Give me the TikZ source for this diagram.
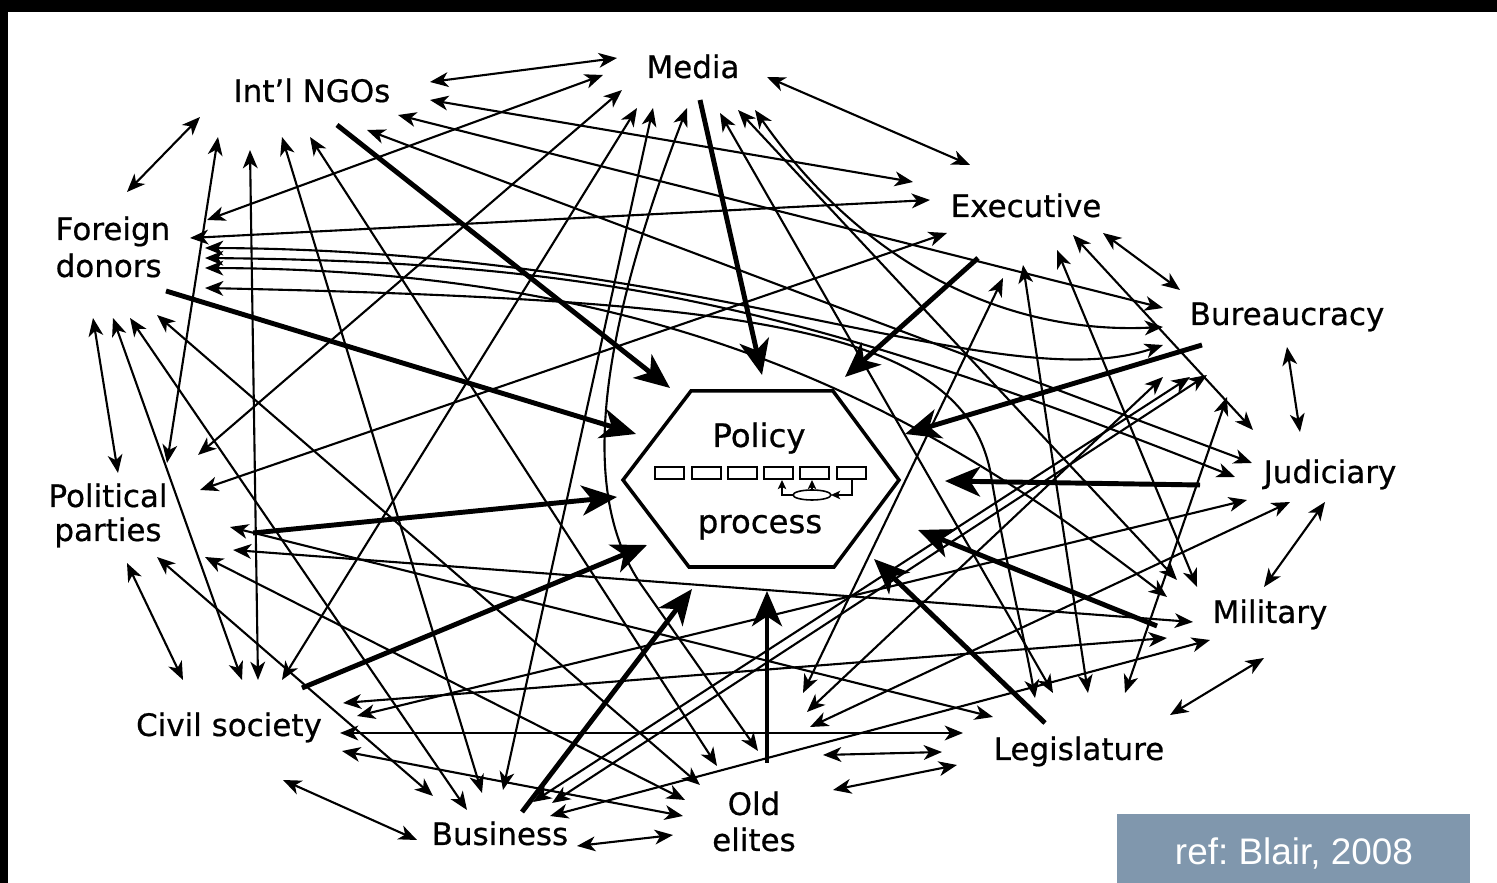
\documentclass[tikz,border=0pt]{standalone}
\usepackage{fontspec}
\setmainfont{DejaVu Sans}
\newfontfamily\labfont[FakeBold=0.6]{DejaVu Sans}
\newfontfamily\reffont{Liberation Sans}
\usetikzlibrary{arrows.meta}
\definecolor{refgrey}{RGB}{128,151,173}
\begin{document}
\frenchspacing
\begin{tikzpicture}[x=0.01cm,y=-0.01cm,
  >={Stealth[length=5.2pt,width=4.2pt,inset=1.5pt]},
  rel/.style={line width=0.6pt,<->},
  infl/.style={line width=1.4pt,-{Stealth[length=10pt,width=8.5pt,inset=2.8pt]}},
  lab/.style={font=\labfont\fontsize{8.8}{10}\selectfont,inner sep=0pt,anchor=base},
  box/.style={line width=0.45pt},
  tiny/.style={line width=0.45pt,-{Stealth[length=2.6pt,width=2.4pt,inset=0.6pt]}}]
\useasboundingbox (0,0) rectangle (1497,883);
\fill[black] (0,0) rectangle (1497,883);
\fill[white] (8,12) rectangle (1497,883);

% ---------- labels ----------
\node[lab] (ng) at (312,102) {Int’l NGOs};
\node[lab] (me) at (693,78) {Media};
\node[lab] (ex) at (1026,217) {Executive};
\node[lab,anchor=base west] (fd1) at (55,240) {Foreign};
\node[lab,anchor=base west] (fd2) at (55,277) {donors};
\node[lab] (bu) at (1287,325) {Bureaucracy};
\node[lab] (ju) at (1330,483) {Judiciary};
\node[lab] (pp1) at (108,507) {Political};
\node[lab] (pp2) at (108,541) {parties};
\node[lab] (mi) at (1270,623) {Military};
\node[lab] (cs) at (229,736) {Civil society};
\node[lab] (le) at (1079,760) {Legislature};
\node[lab] (bs) at (500,845) {Business};
\node[lab] (oe1) at (754,815) {Old};
\node[lab] (oe2) at (754,851) {elites};

% ---------- policy process ----------
\coordinate (h1) at (623,480); \coordinate (h2) at (691,391);
\coordinate (h3) at (833,391); \coordinate (h4) at (899,480);
\coordinate (h5) at (834,567); \coordinate (h6) at (689,567);
\draw[line width=1pt,line join=miter] (h1)--(h2)--(h3)--(h4)--(h5)--(h6)--cycle;
\node[lab,font=\labfont\fontsize{9.2}{10}\selectfont] (pol) at (759,447) {Policy};
\node[lab,font=\labfont\fontsize{9.2}{10}\selectfont] (proc) at (760,533) {process};
\foreach \a in {655,692,728,764,800,837} {\draw[box] (\a,467) rectangle ++(29,12);}
\coordinate (el) at (812,495);
\draw[box] (el) ellipse [x radius=0.19cm, y radius=0.05cm];
\coordinate (r6b) at (852,479); \coordinate (elr) at (831,495);
\coordinate (elt) at (812,490); \coordinate (r5b) at (812,480);
\coordinate (ell) at (793,495); \coordinate (r4b) at (782,480);
\draw[tiny] (r6b) |- (elr);
\draw[tiny] (elt) -- (r5b);
\draw[tiny] (ell) -| (r4b);

% ---------- ports ----------
\coordinate (NGme) at (430,82);  \coordinate (NGex) at (430,100);
\coordinate (NGbu) at (398,115); \coordinate (NGju) at (367,130);
\coordinate (NGoe) at (310,137); \coordinate (NGbs) at (282,137);
\coordinate (NGcs) at (250,150); \coordinate (NGpp) at (218,137);
\coordinate (NGfd) at (200,117);
\coordinate (MEng) at (617,58);  \coordinate (MEfd) at (603,75);
\coordinate (MEpp) at (622,90);  \coordinate (MEcs) at (637,108);
\coordinate (MEbs) at (653,108); \coordinate (MEoe) at (687,108);
\coordinate (MEle) at (720,113); \coordinate (MEmi) at (738,110);
\coordinate (MEbu) at (755,110); \coordinate (MEex) at (767,77);
\coordinate (EXng) at (913,182); \coordinate (EXfd) at (930,200);
\coordinate (EXpp) at (947,233); \coordinate (EXme) at (970,165);
\coordinate (EXoe) at (1003,278); \coordinate (EXle) at (1023,265);
\coordinate (EXmi) at (1057,250); \coordinate (EXju) at (1073,235);
\coordinate (EXbu) at (1103,233);
\coordinate (FDng) at (127,192); \coordinate (FDme) at (207,220);
\coordinate (FDex) at (190,238); \coordinate (FDbu) at (205,248);
\coordinate (FDju) at (205,258); \coordinate (FDmi) at (205,268);
\coordinate (FDle) at (205,288); \coordinate (FDpp) at (93,318);
\coordinate (FDcs) at (113,318); \coordinate (FDbs) at (130,318);
\coordinate (FDoe) at (157,315);
\coordinate (BUng) at (1163,308); \coordinate (BUme) at (1163,327);
\coordinate (BUfd) at (1163,345); \coordinate (BUex) at (1180,290);
\coordinate (BUju) at (1287,347); \coordinate (BUle) at (1227,397);
\coordinate (BUoe) at (1163,377); \coordinate (BUbs) at (1190,377);
\coordinate (BUbt) at (1207,375);
\coordinate (JUng) at (1252,463); \coordinate (JUfd) at (1235,477);
\coordinate (JUex) at (1253,430); \coordinate (JUbu) at (1300,432);
\coordinate (JUmi) at (1325,502); \coordinate (JUcs) at (1247,500);
\coordinate (JUoe) at (1290,502);
\coordinate (PPng) at (167,463); \coordinate (PPfd) at (118,473);
\coordinate (PPme) at (198,455); \coordinate (PPex) at (200,490);
\coordinate (PPle) at (230,527); \coordinate (PPmi) at (233,550);
\coordinate (PPoe) at (205,557); \coordinate (PPcs) at (127,563);
\coordinate (PPbs) at (157,557);
\coordinate (MIme) at (1177,580); \coordinate (MIex) at (1197,587);
\coordinate (MIfd) at (1167,597); \coordinate (MIju) at (1264,587);
\coordinate (MIpp) at (1193,622); \coordinate (MIcs) at (1167,638);
\coordinate (MIbs) at (1210,640); \coordinate (MIle) at (1264,658);
\coordinate (CSpp) at (183,680); \coordinate (CSfd) at (242,680);
\coordinate (CSng) at (258,680); \coordinate (CSme) at (282,680);
\coordinate (CSmi) at (343,703); \coordinate (CSju) at (357,716);
\coordinate (CSle) at (340,733); \coordinate (CSoe) at (342,751);
\coordinate (CSbs) at (283,780);
\coordinate (LEme) at (1053,693); \coordinate (LEex) at (1088,693);
\coordinate (LEbu) at (1125,693); \coordinate (LEcs) at (963,733);
\coordinate (LEpp) at (993,717); \coordinate (LEmi) at (1170,715);
\coordinate (LEoe) at (942,752); \coordinate (LEot) at (957,765);
\coordinate (LEfd) at (1035,698);
\coordinate (BSng) at (482,793); \coordinate (BSme) at (503,790);
\coordinate (BSfd) at (467,810); \coordinate (BSpp) at (433,796);
\coordinate (BScs) at (417,840); \coordinate (BSoe) at (577,846);
\coordinate (BSmi) at (550,816); \coordinate (BSbu) at (533,802);
\coordinate (BSbt) at (552,803);
\coordinate (OEng) at (717,766); \coordinate (OEme) at (758,751);
\coordinate (OEfd) at (700,785); \coordinate (OEpp) at (685,800);
\coordinate (OEcs) at (683,816); \coordinate (OEbs) at (673,835);
\coordinate (OEex) at (803,693); \coordinate (OEbu) at (807,712);
\coordinate (OEju) at (810,727); \coordinate (OEle) at (823,755);
\coordinate (OElt) at (833,790);

% ---------- thin relations ----------
\draw[rel] (NGme) -- (MEng);
\draw[rel] (NGex) -- (EXng);
\draw[rel] (NGbu) -- (BUng);
\draw[rel] (NGju) -- (JUng);
\draw[rel] (NGoe) -- (OEng);
\draw[rel] (NGbs) -- (BSng);
\draw[rel] (NGcs) -- (CSng);
\draw[rel] (NGpp) -- (PPng);
\draw[rel] (NGfd) -- (FDng);
\draw[rel] (MEfd) -- (FDme);
\draw[rel] (MEpp) -- (PPme);
\draw[rel] (MEcs) -- (CSme);
\draw[rel] (MEbs) -- (BSme);
\draw[rel] (MEoe) .. controls (590,360) and (585,500) .. (640,583) -- (OEme);
\draw[rel] (MEle) -- (LEme);
\draw[rel] (MEmi) -- (MIme);
\draw[rel] (MEbu) .. controls (860,260) and (1000,335) .. (BUme);
\draw[rel] (MEex) -- (EXme);
\draw[rel] (EXfd) -- (FDex);
\draw[rel] (EXpp) -- (PPex);
\draw[rel] (EXoe) -- (OEex);
\draw[rel] (EXle) -- (LEex);
\draw[rel] (EXmi) -- (MIex);
\draw[rel] (EXju) -- (JUex);
\draw[rel] (EXbu) -- (BUex);
\draw[rel] (FDpp) -- (PPfd);
\draw[rel] (FDcs) -- (CSfd);
\draw[rel] (FDbs) -- (BSfd);
\draw[rel] (FDoe) -- (OEfd);
\draw[rel] (FDbu) .. controls (700,250) and (1000,400) .. (BUfd);
\draw[rel] (FDju) .. controls (600,262) and (800,305) .. (JUfd);
\draw[rel] (FDmi) .. controls (700,270) and (950,430) .. (MIfd);
\draw[rel] (FDle) .. controls (760,300) and (960,330) .. (990,470) .. controls (1005,560) and (1025,640) .. (LEfd);
\draw[rel] (PPle) -- (LEpp);
\draw[rel] (PPmi) -- (MIpp);
\draw[rel] (PPoe) -- (OEpp);
\draw[rel] (PPcs) -- (CSpp);
\draw[rel] (PPbs) -- (BSpp);
\draw[rel] (CSmi) -- (MIcs);
\draw[rel] (CSju) -- (JUcs);
\draw[rel] (CSle) -- (LEcs);
\draw[rel] (CSoe) -- (OEcs);
\draw[rel] (CSbs) -- (BScs);
\draw[rel] (BSoe) -- (OEbs);
\draw[rel] (BSmi) -- (MIbs);
\draw[rel] (BSbu) -- (BUbs);
\draw[rel] (BSbt) -- (BUbt);
\draw[rel] (OEbu) -- (BUoe);
\draw[rel] (OEju) -- (JUoe);
\draw[rel] (OEle) -- (LEoe);
\draw[rel] (OElt) -- (LEot);
\draw[rel] (LEmi) -- (MIle);
\draw[rel] (BUle) -- (LEbu);
\draw[rel] (BUju) -- (JUbu);
\draw[rel] (JUmi) -- (MIju);

% ---------- thick influences on the policy process ----------
\coordinate (tNG) at (337,125);  \coordinate (hNG) at (670,388);
\coordinate (tME) at (700,100);  \coordinate (hME) at (762,375);
\coordinate (tEX) at (978,258);  \coordinate (hEX) at (845,377);
\coordinate (tFD) at (166,291);  \coordinate (hFD) at (636,434);
\coordinate (tBU) at (1202,345); \coordinate (hBU) at (905,434);
\coordinate (tJU) at (1200,485); \coordinate (hJU) at (945,481);
\coordinate (tPP) at (253,533);  \coordinate (hPP) at (617,497);
\coordinate (tMI) at (1157,626); \coordinate (hMI) at (918,530);
\coordinate (tCS) at (302,688);  \coordinate (hCS) at (647,545);
\coordinate (tLE) at (1045,723); \coordinate (hLE) at (874,559);
\coordinate (tBS) at (522,812);  \coordinate (hBS) at (692,589);
\coordinate (tOE) at (767,763);  \coordinate (hOE) at (767,591);
\foreach \s in {NG,ME,EX,FD,BU,JU,PP,MI,CS,LE,BS,OE}
  {\draw[infl] (t\s) -- (h\s);}

% ---------- reference box ----------
\fill[refgrey] (1117,814) rectangle (1470,883);
\node[inner sep=0pt,anchor=base,text=white,font=\reffont\fontsize{10.5}{12}\selectfont] (ref) at (1294,865) {ref: Blair, 2008};
\end{tikzpicture}
\end{document}
